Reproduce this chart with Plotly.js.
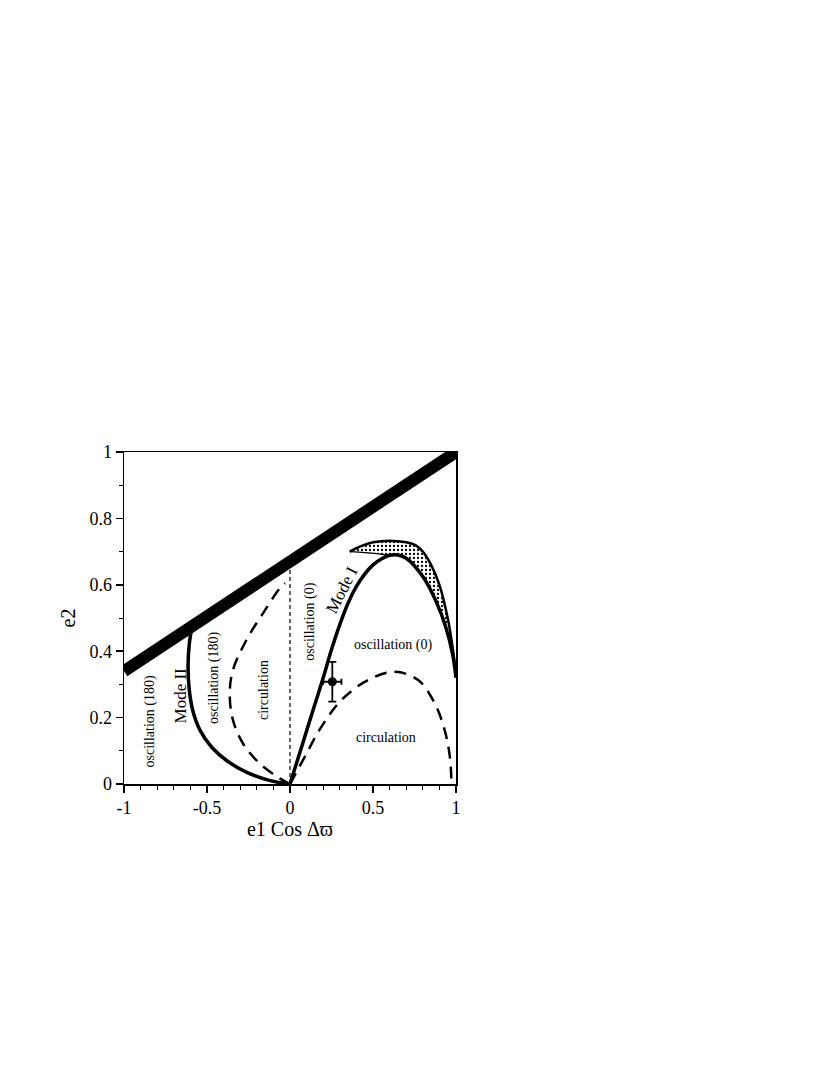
<!doctype html>
<html>
<head>
<meta charset="utf-8">
<script src="https://cdn.plot.ly/plotly-3.0.1.min.js"></script>
<style>
  html, body { margin: 0; padding: 0; background: #fff; }
</style>
</head>
<body>
<div id="chart"></div>
<script>
// stability limit (thick line)
let limitX = [-1, 1]
let limitY = [0.34, 1.0]

// Mode II (solid) boundary
let mode2X = [0, -0.12, -0.26, -0.38, -0.47, -0.54, -0.585, -0.608, -0.614, -0.607, -0.594]
let mode2Y = [0, 0.01, 0.035, 0.07, 0.11, 0.16, 0.22, 0.29, 0.36, 0.42, 0.465]

// left dashed separatrix
let sepLX = [0, -0.062, -0.183, -0.283, -0.344, -0.363, -0.344, -0.263, -0.163, -0.062, -0.03]
let sepLY = [0, 0.017, 0.062, 0.122, 0.193, 0.273, 0.343, 0.433, 0.514, 0.589, 0.605]

// right dashed separatrix
let sepRX = [0, 0.089, 0.189, 0.31, 0.47, 0.631, 0.772, 0.872, 0.932, 0.963, 0.973]
let sepRY = [0, 0.082, 0.172, 0.253, 0.313, 0.338, 0.313, 0.243, 0.162, 0.082, 0]

// Mode I (solid) boundary, rising then falling to the right edge
let mode1X = [0, 0.05, 0.1, 0.15, 0.2, 0.25, 0.3, 0.35, 0.4, 0.45, 0.5, 0.55, 0.6, 0.65, 0.7, 0.8, 0.88, 0.94, 0.98, 1.0]
let mode1Y = [0, 0.08, 0.16, 0.24, 0.32, 0.405, 0.48, 0.545, 0.595, 0.632, 0.66, 0.678, 0.689, 0.69, 0.68, 0.625, 0.55, 0.47, 0.39, 0.32]

// outer arc of the dotted region
let outerX = [0.36, 0.42, 0.5, 0.6, 0.7, 0.76, 0.8, 0.85, 0.9, 0.95, 0.98, 1.0]
let outerY = [0.70, 0.715, 0.728, 0.733, 0.728, 0.718, 0.70, 0.66, 0.60, 0.50, 0.41, 0.33]

// lower edge of the small left lens
let lensX = [0.36, 0.45, 0.52, 0.6]
let lensY = [0.70, 0.697, 0.694, 0.689]

// vertical dashed line at x = 0
let axisX = [0, 0]
let axisY = [0, 0.665]

// observed system with error bars
let obsX = [0.255]
let obsY = [0.308]
let obsErrX = [0.055]
let obsErrY = [0.06]

// region labels
let labelText = ['oscillation (180)', 'Mode II', 'oscillation (180)', 'circulation', 'oscillation (0)', 'Mode I', 'oscillation (0)', 'circulation']
let labelX = [-0.846, -0.66, -0.454, -0.163, 0.119, 0.315, 0.62, 0.581]
let labelY = [0.187, 0.268, 0.318, 0.283, 0.488, 0.585, 0.418, 0.139]
let labelAngle = [-90, -90, -90, -90, -90, -63, 0, 0]
let labelSize = [14, 17, 14, 14, 14, 17, 14, 14]

// dotted region polygon: outer arc, back along Mode I top, then the lens edge
let m1Start = mode1X.indexOf(0.6)
let fillX = outerX.concat(mode1X.slice(m1Start).reverse(), lensX.slice().reverse())
let fillY = outerY.concat(mode1Y.slice(m1Start).reverse(), lensY.slice().reverse())

let traces = [
  {
    x: fillX, y: fillY, mode: 'lines', fill: 'toself',
    fillcolor: 'white',
    fillpattern: { shape: '.', fgcolor: 'black', bgcolor: 'white', size: 4, solidity: 0.25 },
    line: { width: 0 }, hoverinfo: 'skip'
  },
  { x: axisX, y: axisY, mode: 'lines', line: { color: 'black', width: 1.2, dash: '4px,3px' } },
  { x: sepLX, y: sepLY, mode: 'lines', line: { color: 'black', width: 2.5, dash: '12px,8px', shape: 'spline' } },
  { x: sepRX, y: sepRY, mode: 'lines', line: { color: 'black', width: 2.5, dash: '12px,8px', shape: 'spline' } },
  { x: mode2X, y: mode2Y, mode: 'lines', line: { color: 'black', width: 3.5, shape: 'spline' } },
  { x: mode1X, y: mode1Y, mode: 'lines', line: { color: 'black', width: 3.5, shape: 'spline' } },
  { x: outerX, y: outerY, mode: 'lines', line: { color: 'black', width: 2.5, shape: 'spline' } },
  { x: lensX, y: lensY, mode: 'lines', line: { color: 'black', width: 1.2, shape: 'spline' } },
  { x: limitX, y: limitY, mode: 'lines', line: { color: 'black', width: 12 } },
  {
    x: obsX, y: obsY, mode: 'markers',
    marker: { color: 'black', size: 9 },
    error_x: { type: 'data', array: obsErrX, color: 'black', thickness: 1.8, width: 3 },
    error_y: { type: 'data', array: obsErrY, color: 'black', thickness: 1.8, width: 4 }
  }
]

let annotations = labelText.map((t, i) => ({
  x: labelX[i], y: labelY[i], text: t, showarrow: false,
  textangle: labelAngle[i],
  font: { family: 'Liberation Serif', size: labelSize[i], color: 'black' }
}))

let font = { family: 'Liberation Serif', size: 18, color: 'black' }

Plotly.newPlot('chart', traces, {
  width: 830, height: 1075,
  margin: { l: 124, r: 374, t: 452, b: 291 },
  paper_bgcolor: 'white', plot_bgcolor: 'white',
  showlegend: false,
  font: font,
  xaxis: {
    range: [-1, 1],
    tickvals: [-1, -0.5, 0, 0.5, 1],
    ticktext: ['-1', '-0.5', '0', '0.5', '1'],
    ticks: 'outside', ticklen: 7, tickwidth: 1.5, tickcolor: 'black',
    minor: { tickmode: 'linear', tick0: 0, dtick: 0.1, ticks: 'outside', ticklen: 4, tickwidth: 1, tickcolor: 'black', showgrid: false },
    showline: true, linewidth: 1.5, linecolor: 'black', mirror: true,
    showgrid: false, zeroline: false,
    tickfont: font,
    title: { text: 'e1 Cos Δϖ', font: { family: 'Liberation Serif', size: 20, color: 'black' }, standoff: 4 }
  },
  yaxis: {
    range: [0, 1],
    tickvals: [0, 0.2, 0.4, 0.6, 0.8, 1],
    ticktext: ['0', '0.2', '0.4', '0.6', '0.8', '1'],
    ticks: 'outside', ticklen: 7, tickwidth: 1.5, tickcolor: 'black',
    minor: { tickmode: 'linear', tick0: 0, dtick: 0.1, ticks: 'outside', ticklen: 4, tickwidth: 1, tickcolor: 'black', showgrid: false },
    showline: true, linewidth: 1.5, linecolor: 'black', mirror: true,
    showgrid: false, zeroline: false,
    tickfont: font,
    title: { text: 'e2', font: { family: 'Liberation Serif', size: 20, color: 'black' }, standoff: 8 }
  },
  annotations: annotations
}, { staticPlot: true })
</script>
</body>
</html>
